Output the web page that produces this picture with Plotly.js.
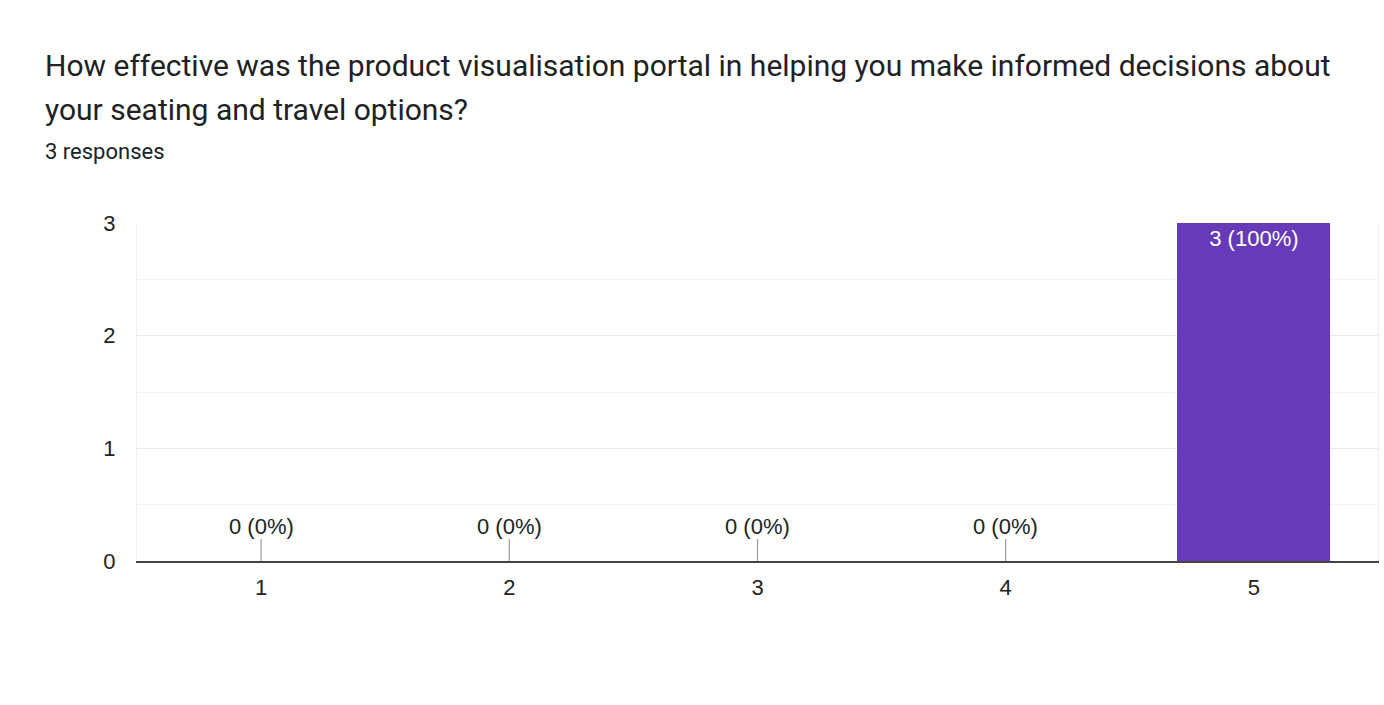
<!DOCTYPE html>
<html>
<head>
<meta charset="utf-8">
<script src="https://cdn.plot.ly/plotly-3.0.1.min.js"></script>
<style>html,body{margin:0;padding:0;background:#fff;}#chart{width:1384px;height:705px;}</style>
</head>
<body>
<div id="chart"></div>
<script>
const titleLines = ["How effective was the product visualisation portal in helping you make informed decisions about", "your seating and travel options?"];
const subtitle = "3 responses";
const categories = ["1", "2", "3", "4", "5"];
const counts = [0, 0, 0, 0, 3];
const total = 3;

const labels = counts.map(v => v + " (" + Math.round(v / total * 100) + "%)");

const W = 1384, H = 705;
const margin = {l: 137, r: 6, t: 223, b: 144};
const pw = W - margin.l - margin.r, ph = H - margin.t - margin.b;
const px = x => (x - margin.l) / pw;
const py = y => (H - margin.b - y) / ph;

const annotations = [];
titleLines.forEach((t, i) => {
  annotations.push({text: t, xref: 'paper', yref: 'paper', x: px(43), y: py(65 + i * 45),
    xanchor: 'left', yanchor: 'middle', showarrow: false,
    font: {family: 'Roboto, sans-serif', size: 30, color: '#202124'}});
});
annotations.push({text: subtitle, xref: 'paper', yref: 'paper', x: px(43), y: py(151),
  xanchor: 'left', yanchor: 'middle', showarrow: false,
  font: {family: 'Roboto, sans-serif', size: 22, color: '#202124'}});

categories.forEach((c, i) => {
  if (counts[i] === 0) {
    annotations.push({text: labels[i], x: i, y: 0, xref: 'x', yref: 'y',
      showarrow: true, arrowhead: 0, arrowwidth: 1.2, arrowcolor: '#999', ax: 0, ay: -35,
      borderpad: 0, font: {family: 'Liberation Sans, Arial, sans-serif', size: 22, color: '#222'}});
  }
});

const trace = {
  type: 'bar', x: categories, y: counts,
  text: counts.map((v, i) => v > 0 ? labels[i] : ''),
  textposition: 'inside', insidetextanchor: 'end', textangle: 0,
  textfont: {family: 'Liberation Sans, Arial, sans-serif', size: 22, color: '#ffffff'},
  marker: {color: '#673ab7'}, width: 0.617, hoverinfo: 'none', cliponaxis: false
};

const layout = {
  width: W, height: H, margin: margin, showlegend: false,
  paper_bgcolor: '#fff', plot_bgcolor: '#fff',
  font: {family: 'Liberation Sans, Arial, sans-serif', color: '#222'},
  xaxis: {type: 'category', showgrid: false, showline: true, linecolor: '#444', linewidth: 2,
    ticks: '', tickfont: {size: 22, color: '#222'}, ticklabelstandoff: 6, fixedrange: true, zeroline: false},
  yaxis: {range: [0, 3], dtick: 1, showgrid: true, gridcolor: '#ebebeb', gridwidth: 1,
    minor: {dtick: 0.5, showgrid: true, gridcolor: '#f3f3f3', gridwidth: 1},
    showline: true, mirror: true, linecolor: '#eeeeee', linewidth: 1,
    zeroline: false, ticks: '', tickfont: {size: 22, color: '#222'}, ticklabelstandoff: 16, fixedrange: true},
  annotations: annotations,
  bargap: 0
};

Plotly.newPlot('chart', [trace], layout, {displayModeBar: false, staticPlot: true});
</script>
</body>
</html>
